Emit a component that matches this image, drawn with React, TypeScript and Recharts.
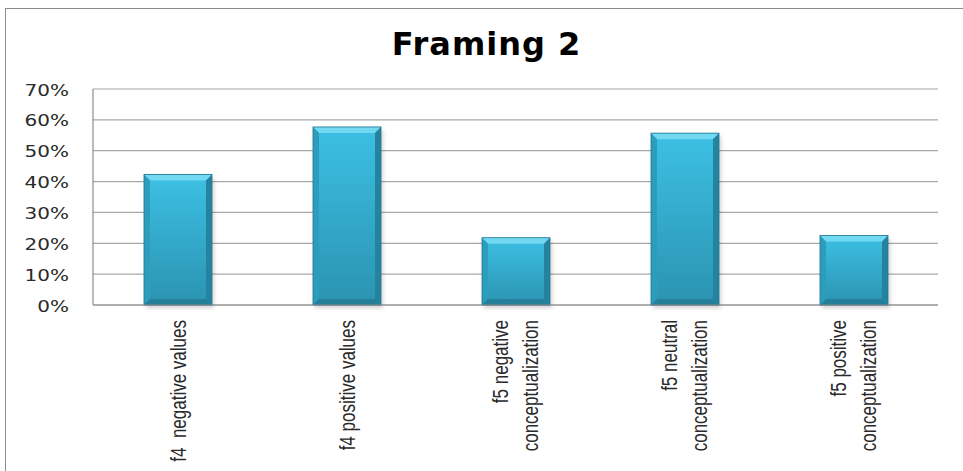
import React from "react";
import { BarChart, Bar, XAxis, YAxis, CartesianGrid } from "recharts";

const categories = [
  "f4  negative values",
  "f4 positive values",
  "f5 negative conceptualization",
  "f5 neutral conceptualization",
  "f5 positive conceptualization",
];
const shares = [42.3, 57.7, 21.8, 55.7, 22.5];
const yTicks = [0, 10, 20, 30, 40, 50, 60, 70];
const title = "Framing 2";

const data = categories.map((name, i) => ({ name, value: shares[i] }));

const splitLabel = (s: string): string[] => {
  if (s.length <= 20) return [s];
  const idx = s.lastIndexOf(" ");
  return [s.slice(0, idx), s.slice(idx + 1)];
};

const YTick = (props: any) => {
  const { x, y, payload } = props;
  return (
    <text
      transform={`translate(${x},${y}) scale(1.25,1)`}
      textAnchor="end"
      dy={6.5}
      fontFamily="DejaVu Sans"
      fontSize={16}
      fill="#2a2a2a"
    >
      {`${payload.value}%`}
    </text>
  );
};

const XTick = (props: any) => {
  const { x, y, payload } = props;
  const lines = splitLabel(String(payload.value));
  const offsets = lines.length === 1 ? [6.8] : [-6, 18];
  return (
    <g transform={`translate(${x},${y}) rotate(-90) scale(1,1.25)`}>
      {lines.map((ln, i) => (
        <text
          key={i}
          x={0}
          y={offsets[i]}
          textAnchor="end"
          fontFamily="Liberation Sans"
          fontSize={17}
          fill="#2a2a2a"
          style={{ whiteSpace: "pre" }}
        >
          {ln}
        </text>
      ))}
    </g>
  );
};

const BevelBar = (props: any) => {
  const { x, y, width: w, height: h, index } = props;
  if (!h || h <= 0) return null;
  const b = Math.min(6, h / 2);
  const gid = `bg${index}`;
  const sid = `sg${index}`;
  return (
    <g>
      <defs>
        <linearGradient id={gid} x1="0" y1="0" x2="0" y2="1">
          <stop offset="0%" stopColor="#3cc0e4" />
          <stop offset="100%" stopColor="#2b93b1" />
        </linearGradient>
        <filter id={sid} x="-20%" y="-20%" width="140%" height="140%">
          <feGaussianBlur stdDeviation="2" />
        </filter>
      </defs>
      <rect x={x + 2} y={y + 3} width={w} height={h} fill="rgba(0,0,0,0.18)" filter={`url(#${sid})`} />
      <rect x={x} y={y} width={w} height={h} fill={`url(#${gid})`} />
      <polygon
        points={`${x},${y} ${x + w},${y} ${x + w - b},${y + b} ${x + b},${y + b}`}
        fill="#72d9f2"
      />
      <polygon
        points={`${x},${y} ${x + b},${y + b} ${x + b},${y + h - b} ${x},${y + h}`}
        fill="#2c9dbd"
      />
      <polygon
        points={`${x + w},${y} ${x + w},${y + h} ${x + w - b},${y + h - b} ${x + w - b},${y + b}`}
        fill="#24839e"
      />
      <polygon
        points={`${x},${y + h} ${x + b},${y + h - b} ${x + w - b},${y + h - b} ${x + w},${y + h}`}
        fill="#257f99"
      />
      <rect x={x} y={y} width={w} height={h} fill="none" stroke="#1f7590" strokeWidth={0.8} />
    </g>
  );
};

export default function App() {
  return (
    <div
      style={{
        position: "absolute",
        left: 0,
        top: 0,
        width: 963,
        height: 471,
        overflow: "hidden",
        background: "#fff",
      }}
    >
      <div
        style={{
          position: "absolute",
          left: 5,
          top: 8,
          width: 1000,
          height: 500,
          border: "1.5px solid #8c8c8c",
        }}
      />
      <div
        style={{
          position: "absolute",
          left: 5,
          top: 28,
          width: 963,
          textAlign: "center",
          fontFamily: "DejaVu Sans",
          fontWeight: "bold",
          fontSize: 32,
          lineHeight: "32px",
          letterSpacing: 1,
          color: "#000",
        }}
      >
        {title}
      </div>
      <div style={{ position: "absolute", left: 0, top: 0 }}>
        <BarChart
          width={963}
          height={471}
          data={data}
          margin={{ top: 89, right: 25, bottom: 0, left: 0 }}
          barSize={68}
        >
          <CartesianGrid vertical={false} stroke="#a8a8a8" strokeWidth={1.2} />
          <XAxis
            dataKey="name"
            height={166}
            interval={0}
            tickLine={false}
            tickMargin={9}
            axisLine={{ stroke: "#8c8c8c", strokeWidth: 1.2 }}
            tick={<XTick />}
          />
          <YAxis
            width={93}
            domain={[0, 70]}
            ticks={yTicks}
            tickLine={false}
            tickMargin={18}
            axisLine={{ stroke: "#8c8c8c", strokeWidth: 1.2 }}
            tick={<YTick />}
          />
          <Bar dataKey="value" isAnimationActive={false} shape={<BevelBar />} />
        </BarChart>
      </div>
    </div>
  );
}
